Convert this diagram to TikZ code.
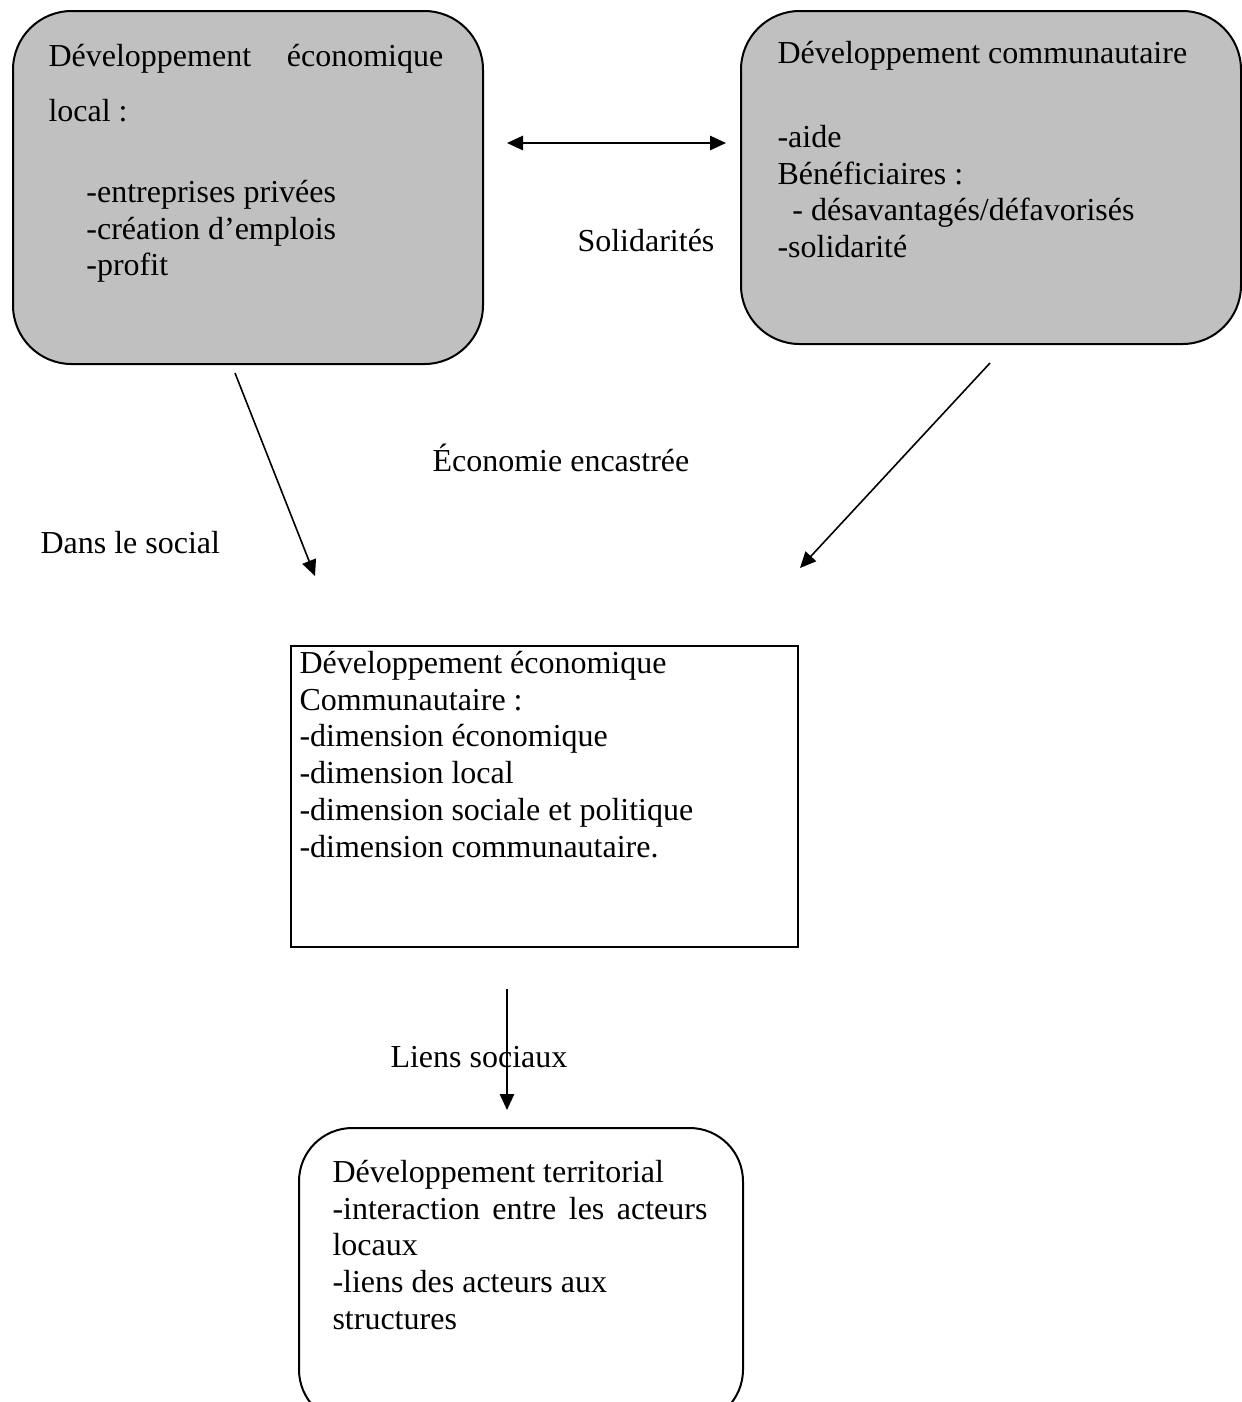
\documentclass[tikz,border=0pt]{standalone}
\usepackage{fontspec}
\setmainfont{Liberation Serif}
\usetikzlibrary{arrows.meta}
\definecolor{boxgray}{RGB}{192,192,192}
\newcommand{\pxu}{0.375pt}

\begin{document}
\begin{tikzpicture}[x=\pxu, y=-\pxu,
  every node/.style={font=\fontsize{12}{13.8}\selectfont},
  roundbox/.style={draw, line width=0.75pt, rounded corners=22pt, anchor=north west, inner sep=0pt},
  plainbox/.style={draw, line width=0.75pt, anchor=north west, inner sep=0pt},
  txt/.style={anchor=north west, inner sep=0pt, align=left},
  lbl/.style={anchor=base west, inner sep=0pt},
  link/.style={line width=0.6pt, -{Triangle[length=6pt, width=5.4pt]}},
  dlink/.style={line width=0.6pt, {Triangle[length=6pt, width=5.4pt]}-{Triangle[length=6pt, width=5.4pt]}}]
  \useasboundingbox (0,0) rectangle (1242,1402);
  \clip (0,0) rectangle (1242,1402);
  % boxes
  \node[roundbox, fill=boxgray, minimum width=470*\pxu, minimum height=353*\pxu] (eco) at (12,10) {};
  \node[roundbox, fill=boxgray, minimum width=500*\pxu, minimum height=333*\pxu] (com) at (740,10) {};
  \node[plainbox, minimum width=507*\pxu, minimum height=301*\pxu] (mid) at (290,645) {};
  \node[roundbox, rounded corners=20pt, minimum width=444*\pxu, minimum height=295*\pxu] (ter) at (298,1127) {};
  % box texts
  \node[txt] (ecotxt) at (48,40) {\strut\makebox[148pt][s]{Développement économique}\\[6.8pt]
    local :\\[16.6pt]
    \hspace*{14.2pt}-entreprises privées\\
    \hspace*{14.2pt}-création d’emplois\\
    \hspace*{14.2pt}-profit};
  \node[txt] (comtxt) at (777,37) {\strut Développement communautaire\\[17.7pt]
    -aide\\
    Bénéficiaires :\\
    \hspace*{5.6pt}- désavantagés/défavorisés\\
    -solidarité};
  \node[txt] (midtxt) at (299,647) {\strut Développement économique\\
    Communautaire :\\
    -dimension économique\\
    -dimension local\\
    -dimension sociale et politique\\
    -dimension communautaire.};
  \node[txt] (tertxt) at (332,1156) {\strut Développement territorial\\
    \makebox[140.6pt][s]{-interaction entre les acteurs}\\
    locaux\\
    -liens des acteurs aux\\
    structures};
  % labels
  \node[lbl] (solid) at (577,251) {Solidarités};
  \node[lbl] (encas) at (432,471) {Économie encastrée};
  \node[lbl] (social) at (40,553) {Dans le social};
  \node[lbl] (liens) at (390,1067) {Liens sociaux};
  % arrows
  \coordinate (solA) at (507,143);
  \coordinate (solB) at (726,143);
  \coordinate (ecoout) at (235,373);
  \coordinate (midin1) at (315,576);
  \coordinate (comout) at (990,363);
  \coordinate (midin2) at (800,568);
  \coordinate (midout) at (507,989);
  \coordinate (terin) at (507,1110);
  \draw[dlink] (solA) -- (solB);
  \draw[link] (ecoout) -- (midin1);
  \draw[link] (comout) -- (midin2);
  \draw[link] (midout) -- (terin);
\end{tikzpicture}
\end{document}
